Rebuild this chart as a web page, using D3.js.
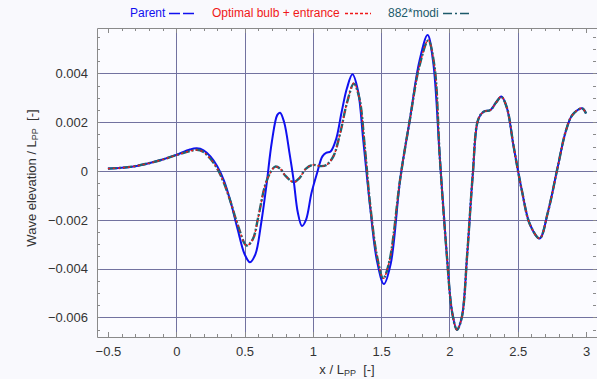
<!DOCTYPE html>
<html>
<head>
<meta charset="utf-8">
<script src="https://cdn.jsdelivr.net/npm/d3@7"></script>
<style>
  body { margin: 0; background: #f9f9fd; }
  svg { display: block; }
</style>
</head>
<body>
<svg id="chart" width="597" height="379"></svg>
<script>

// values (x / Lpp, wave elevation / Lpp)
var parent_x = [-0.5, -0.4, -0.3, -0.2, -0.1, 0.0, 0.1, 0.15, 0.2, 0.25, 0.3, 0.35, 0.4, 0.45, 0.5, 0.54, 0.58, 0.62, 0.66, 0.7,
                0.74, 0.76, 0.79, 0.83, 0.86, 0.89, 0.92, 0.95, 0.99, 1.03, 1.07, 1.1, 1.13, 1.17, 1.21, 1.25, 1.29, 1.33, 1.37, 1.42,
                1.47, 1.52, 1.57, 1.64, 1.71, 1.78, 1.84, 1.88, 1.93, 1.98, 2.02, 2.055, 2.09, 2.13, 2.17, 2.21, 2.25, 2.3, 2.34, 2.38,
                2.42, 2.47, 2.53, 2.59, 2.66, 2.72, 2.79, 2.85, 2.9, 2.97, 3.0];
var parent_y = [0.0001, 0.00013, 0.0002, 0.00032, 0.00047, 0.00066, 0.00088, 0.00093, 0.00085, 0.0006, 0.0002, -0.0004, -0.0013, -0.0024, -0.0034, -0.00374, -0.0034, -0.0022, -0.0006, 0.0012,
                0.0023, 0.00239, 0.002, 0.0007, -0.0004, -0.0017, -0.00225, -0.002, -0.0009, -0.0001, 0.0006, 0.00075, 0.0008, 0.0013, 0.0024, 0.0034, 0.00396, 0.0033, 0.0012, -0.0015,
                -0.0037, -0.00463, -0.0038, -0.0003, 0.0021, 0.0045, 0.00557, 0.0045, 0.0005, -0.0034, -0.0058, -0.0065, -0.006, -0.0034, -0.0002, 0.0021, 0.00243, 0.0025, 0.0028, 0.00305,
                0.0026, 0.001, -0.0008, -0.0022, -0.00276, -0.0017, 0.0001, 0.0016, 0.0023, 0.00257, 0.00236];

var optimal_x = [-0.5, -0.4, -0.3, -0.2, -0.1, 0.0, 0.1, 0.15, 0.2, 0.25, 0.3, 0.35, 0.4, 0.45, 0.515, 0.56, 0.6, 0.65, 0.69, 0.725,
                 0.76, 0.8, 0.86, 0.9, 0.95, 1.0, 1.06, 1.1, 1.15, 1.2, 1.25, 1.3, 1.34, 1.38, 1.42, 1.47, 1.515, 1.56, 1.64, 1.71,
                 1.78, 1.845, 1.89, 1.93, 1.98, 2.02, 2.055, 2.09, 2.13, 2.17, 2.21, 2.25, 2.3, 2.34, 2.38, 2.42, 2.47, 2.53, 2.59, 2.66,
                 2.72, 2.79, 2.85, 2.9, 2.97, 3.0];
var optimal_y = [0.0001, 0.00013, 0.0002, 0.00032, 0.00047, 0.00065, 0.00082, 0.00086, 0.00078, 0.0005, 0.0001, -0.0005, -0.0013, -0.0022, -0.00306, -0.0028, -0.0019, -0.0006, -0.00005, 0.00017,
                 0.0001, -0.0002, -0.00046, -0.0003, 0.0001, 0.00025, 0.0002, 0.00025, 0.0006, 0.00155, 0.0028, 0.0036, 0.003, 0.001, -0.0014, -0.0035, -0.0044, -0.0037, -0.0003, 0.0021,
                 0.0043, 0.00537, 0.0043, 0.0005, -0.0034, -0.0058, -0.0065, -0.006, -0.0034, -0.0002, 0.0021, 0.00243, 0.0025, 0.0028, 0.00305, 0.0026, 0.001, -0.0008, -0.0022, -0.00276,
                 -0.0017, 0.0001, 0.0016, 0.0023, 0.00257, 0.00236];

var modi_x = optimal_x.slice();
var modi_y = [0.0001, 0.00013, 0.0002, 0.00032, 0.00047, 0.00065, 0.00082, 0.00087, 0.00078, 0.0005, 0.0001, -0.0005, -0.0013, -0.0022, -0.00305, -0.0028, -0.0019, -0.0006, -0.00005, 0.00018,
              0.0001, -0.0002, -0.00045, -0.0003, 0.0001, 0.00025, 0.0002, 0.00025, 0.0006, 0.00155, 0.0028, 0.00358, 0.003, 0.001, -0.0014, -0.0035, -0.0044, -0.0037, -0.0003, 0.0021,
              0.0043, 0.00535, 0.0043, 0.0005, -0.0034, -0.0058, -0.0065, -0.006, -0.0034, -0.0002, 0.0021, 0.00243, 0.0025, 0.0028, 0.00303, 0.0026, 0.001, -0.0008, -0.0022, -0.00276,
              -0.0017, 0.0001, 0.0016, 0.0023, 0.00257, 0.00236];

var x_ticks = [-0.5, 0, 0.5, 1, 1.5, 2, 2.5, 3];
var x_grid = [0, 0.5, 1, 1.5, 2, 2.5];
var y_ticks = [-0.006, -0.004, -0.002, 0, 0.002, 0.004];

var series_names = ['Parent', 'Optimal bulb + entrance', '882*modi'];

var svg = d3.select('#chart');

var m = {left: 97, right: 597, top: 28, bottom: 337};

var x = d3.scaleLinear().domain([-0.58, 3.08]).range([m.left, m.right]);
var y = d3.scaleLinear().domain([-0.0068, 0.00586]).range([m.bottom, m.top]);

var minus = s => s.replace('-', '\u2212');
var fmt_x = v => minus(String(v));
var fmt_y = v => (v == 0) ? '0' : minus(d3.format('.3f')(v));

// plot background
svg.append('rect')
   .attr('x', m.left)
   .attr('y', m.top)
   .attr('width', m.right - m.left)
   .attr('height', m.bottom - m.top)
   .attr('fill', '#fbfbff');

// grid
svg.append('g')
   .selectAll('line')
   .data(x_grid)
   .enter()
   .append('line')
   .attr('x1', d => Math.round(x(d)) + 0.5)
   .attr('x2', d => Math.round(x(d)) + 0.5)
   .attr('y1', m.top)
   .attr('y2', m.bottom)
   .attr('stroke', '#7272a0')
   .attr('stroke-width', 1);

svg.append('g')
   .selectAll('line')
   .data(y_ticks)
   .enter()
   .append('line')
   .attr('x1', m.left)
   .attr('x2', m.right)
   .attr('y1', d => Math.round(y(d)) + 0.5)
   .attr('y2', d => Math.round(y(d)) + 0.5)
   .attr('stroke', '#7272a0')
   .attr('stroke-width', 1);

// axes: ticks on all four sides, labels bottom and left
var x_minor = d3.range(-5, 31).map(i => i / 10);
var y_minor = d3.range(-13, 12).map(i => i * 0.0005);

var axis_color = '#8a8a8a';

var bottom_axis = d3.axisBottom(x).tickValues(x_ticks).tickFormat(fmt_x).tickSize(0).tickPadding(10);
svg.append('g')
   .attr('transform', 'translate(0,' + m.bottom + ')')
   .call(bottom_axis)
   .call(g => g.select('.domain').remove())
   .selectAll('text')
   .style('font-family', 'Liberation Sans, Arial, sans-serif')
   .style('font-size', '13px')
   .style('fill', '#333');

var left_axis = d3.axisLeft(y).tickValues(y_ticks).tickFormat(fmt_y).tickSize(0).tickPadding(9);
svg.append('g')
   .attr('transform', 'translate(' + m.left + ',0)')
   .call(left_axis)
   .call(g => g.select('.domain').remove())
   .selectAll('text')
   .style('font-family', 'Liberation Sans, Arial, sans-serif')
   .style('font-size', '13px')
   .style('fill', '#333');

var is_major = d => Math.abs(d * 2 - Math.round(d * 2)) < 1e-6;

var ticks = svg.append('g')
   .attr('stroke', axis_color)
   .attr('stroke-width', 1);

ticks.selectAll('.xt')
   .data(x_minor)
   .enter()
   .append('line')
   .attr('x1', d => Math.round(x(d)) + 0.5)
   .attr('x2', d => Math.round(x(d)) + 0.5)
   .attr('y1', m.bottom)
   .attr('y2', d => m.bottom - (is_major(d) ? 5 : 3));

ticks.selectAll('.xtt')
   .data(x_minor)
   .enter()
   .append('line')
   .attr('x1', d => Math.round(x(d)) + 0.5)
   .attr('x2', d => Math.round(x(d)) + 0.5)
   .attr('y1', m.top)
   .attr('y2', d => m.top + (is_major(d) ? 5 : 3));

ticks.selectAll('.yt')
   .data(y_minor)
   .enter()
   .append('line')
   .attr('x1', m.left)
   .attr('x2', m.left + 3)
   .attr('y1', d => Math.round(y(d)) + 0.5)
   .attr('y2', d => Math.round(y(d)) + 0.5);

ticks.selectAll('.ytr')
   .data(y_minor)
   .enter()
   .append('line')
   .attr('x1', m.right - 1)
   .attr('x2', m.right - 4)
   .attr('y1', d => Math.round(y(d)) + 0.5)
   .attr('y2', d => Math.round(y(d)) + 0.5);

// frame (left, top, bottom)
svg.append('path')
   .attr('d', 'M' + m.right + ',' + (m.top + 0.5) + 'H' + (m.left + 0.5) + 'V' + (m.bottom + 0.5) + 'H' + m.right)
   .attr('fill', 'none')
   .attr('stroke', axis_color)
   .attr('stroke-width', 1);

// curves
var line = d3.line()
             .x(d => x(d[0]))
             .y(d => y(d[1]))
             .curve(d3.curveCatmullRom.alpha(0.5));

var zip = (xs, ys) => xs.map((v, i) => [v, ys[i]]);

var series = [
  {name: series_names[0], data: zip(parent_x, parent_y), color: '#1010f0', dash: null, width: 2},
  {name: series_names[2], data: zip(modi_x, modi_y), color: '#1d6672', dash: '9,2,2,2', width: 2.4},
  {name: series_names[1], data: zip(optimal_x, optimal_y), color: '#f01818', dash: '2,3', width: 1.4}
];

svg.append('g')
   .selectAll('path')
   .data(series)
   .enter()
   .append('path')
   .attr('fill', 'none')
   .attr('stroke', d => d.color)
   .attr('stroke-width', d => d.width)
   .attr('stroke-dasharray', d => d.dash)
   .attr('d', d => line(d.data));

// legend
var legend = [
  {label: series_names[0], color: '#1010f0', x: 130, line_x: 169, dash: '11,3', w: 1.6},
  {label: series_names[1], color: '#f01818', x: 212, line_x: 345, dash: '3,2', w: 1.4},
  {label: series_names[2], color: '#1c5a6a', x: 388, line_x: 443, dash: '9,3,2,3', w: 1.4}
];

var lg = svg.append('g')
            .selectAll('g')
            .data(legend)
            .enter()
            .append('g');

lg.append('text')
  .attr('x', d => d.x)
  .attr('y', 17)
  .text(d => d.label)
  .style('font-family', 'Liberation Sans, Arial, sans-serif')
  .style('font-size', '12px')
  .style('fill', d => d.color);

lg.append('line')
  .attr('x1', d => d.line_x)
  .attr('x2', d => d.line_x + 26)
  .attr('y1', 13.5)
  .attr('y2', 13.5)
  .attr('stroke', d => d.color)
  .attr('stroke-width', d => d.w)
  .attr('stroke-dasharray', d => d.dash);

// axis titles
var ylab = svg.append('text')
              .attr('transform', 'translate(36,178) rotate(-90)')
              .attr('text-anchor', 'middle')
              .style('font-family', 'Liberation Sans, Arial, sans-serif')
              .style('font-size', '13px')
              .style('fill', '#333');
ylab.append('tspan').text('Wave elevation / L');
ylab.append('tspan').attr('dy', 2).style('font-size', '9px').text('PP');
ylab.append('tspan').attr('dy', -2).text('\u00a0\u00a0[-]');

var xlab = svg.append('text')
              .attr('x', 347)
              .attr('y', 374)
              .attr('text-anchor', 'middle')
              .style('font-family', 'Liberation Sans, Arial, sans-serif')
              .style('font-size', '13px')
              .style('fill', '#333');
xlab.append('tspan').text('x / L');
xlab.append('tspan').attr('dy', 2).style('font-size', '9px').text('PP');
xlab.append('tspan').attr('dy', -2).text('\u00a0\u00a0[-]');

</script>
</body>
</html>
